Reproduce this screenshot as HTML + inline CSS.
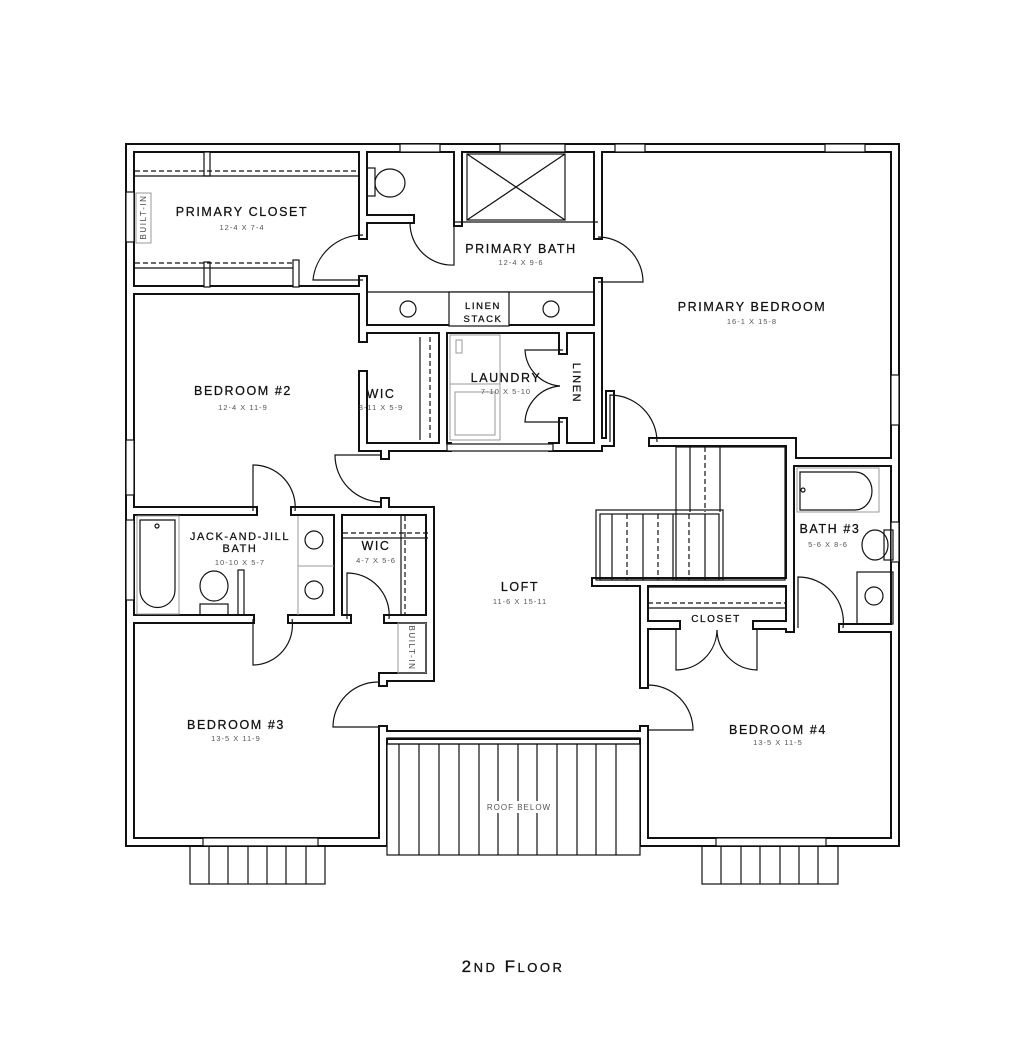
<!DOCTYPE html>
<html><head><meta charset="utf-8"><style>
html,body{margin:0;padding:0;background:#fff}
svg{display:block}
text{font-family:"Liberation Sans",sans-serif;fill:#111;text-anchor:middle}
.n{font-size:12.5px;letter-spacing:1.6px;stroke:#111;stroke-width:0.25px}
.d{font-size:7.5px;letter-spacing:1px;fill:#555}
.t{fill:none;stroke:#111;stroke-width:1.2}
.g{fill:none;stroke:#999;stroke-width:1}
.ds{fill:none;stroke:#111;stroke-width:1.2;stroke-dasharray:5,3}
</style></head><body>
<svg width="1024" height="1062" viewBox="0 0 1024 1062" xmlns="http://www.w3.org/2000/svg">
<defs>
<path id="w" fill="none" stroke-linejoin="miter" stroke-linecap="square" d="
M130,148 H895 V842 H644 V730 M644,684 V582
M383,842 H130 V148
M383,842 V730 M383,735 H644
M383,682 V677 H430
M130,290 H363 M363,148 V235 M363,280 V338 M363,375 V447 H385 V455 M385,502 V511
M130,511 H253 M295,511 H430 V677
M363,219 H410 M458,148 V222
M598,148 V235 M598,282 V442 H610 V395
M653,442 H792 V462 H895
M363,329 H598
M443,331 V445
M385,447 H447 M553,447 H598
M563,331 V350 M563,422 V442
M130,619 H250 M292,619 H347 M338,511 V619 M388,619 H430
M596,582 H790 M790,442 V628
M644,625 H676 M757,625 H790 M843,628 H895
"/>
</defs>
<use href="#w" stroke="#111" stroke-width="10"/>
<use href="#w" stroke="#fff" stroke-width="6"/>

<g class="t" fill="#fff">
<rect x="400" y="144" width="40" height="8" fill="#fff"/>
<rect x="500" y="144" width="65" height="8" fill="#fff"/>
<rect x="615" y="144" width="30" height="8" fill="#fff"/>
<rect x="825" y="144" width="40" height="8" fill="#fff"/>
<rect x="126" y="192" width="8" height="50" fill="#fff"/>
<rect x="126" y="440" width="8" height="55" fill="#fff"/>
<rect x="126" y="520" width="8" height="80" fill="#fff"/>
<rect x="891" y="375" width="8" height="50" fill="#fff"/>
<rect x="891" y="522" width="8" height="40" fill="#fff"/>
<rect x="447" y="444" width="106" height="7" fill="#fff"/>
<rect x="203" y="838" width="115" height="8" fill="#fff"/>
<rect x="716" y="838" width="110" height="8" fill="#fff"/>
</g>

<g class="t">
<path d="M363,280 H313 A50,50 0 0 1 363,235"/>
<path d="M454,223 V265 A42,42 0 0 1 410,223"/>
<path d="M598,282 H643 A45,45 0 0 0 598,237"/>
<path d="M382,455 H335 A47,47 0 0 0 382,502"/>
<path d="M253,511 V465 A42,42 0 0 1 295,511"/>
<path d="M253,619 V665 A40,40 0 0 0 292,619"/>
<path d="M347,619 V573 A42,42 0 0 1 389,619"/>
<path d="M378,727 H333 A45,45 0 0 1 378,682"/>
<path d="M610,442 V395 A47,47 0 0 1 657,442"/>
<path d="M648,730 H693 A45,45 0 0 0 648,685"/>
<path d="M798,628 V577 A45,45 0 0 1 843,628"/>
<path d="M676,628 V670 A41,41 0 0 0 717,630"/>
<path d="M757,628 V670 A41,41 0 0 1 717,630"/>
<path d="M563,350 H525 A38,38 0 0 0 560,386"/>
<path d="M563,422 H525 A38,38 0 0 1 560,386"/>
</g>

<g class="t">
<rect x="204" y="152" width="6" height="24" fill="#fff"/>
<rect x="204" y="262" width="6" height="25" fill="#fff"/>
<rect x="293" y="260" width="6" height="27" fill="#fff"/>
<line x1="135" y1="176" x2="359" y2="176"/>
<line x1="135" y1="268" x2="293" y2="268"/>
<rect x="136" y="193" width="15" height="50" class="g" fill="#fff"/>
</g>
<path class="ds" d="M135,171 H359 M135,263 H293"/>

<g class="t"><rect x="367" y="168" width="8" height="28"/><ellipse cx="390" cy="183" rx="15" ry="14"/></g>
<g class="t"><rect x="467" y="154" width="98" height="66"/><path d="M467,154 L565,220 M565,154 L467,220"/><line x1="454" y1="222" x2="598" y2="222"/></g>
<g class="t"><line x1="367" y1="292" x2="594" y2="292"/><rect x="449" y="292" width="60" height="34" fill="#fff"/><circle cx="408" cy="309" r="8"/><circle cx="551" cy="309" r="8"/></g>
<path class="ds" d="M430,337 V440"/><line class="t" x1="420" y1="337" x2="420" y2="440"/>
<g class="g"><rect x="450" y="335" width="50" height="105"/><rect x="456" y="340" width="6" height="13"/><line x1="450" y1="384" x2="500" y2="384"/><rect x="455" y="392" width="40" height="43"/></g>
<g class="t"><rect x="137" y="516" width="42" height="98" class="g"/><path d="M140,520 H175 V590 A17,17 0 0 1 140,590 Z"/><circle cx="157" cy="526" r="2"/>
<ellipse cx="214" cy="586" rx="14" ry="15"/><rect x="200" y="604" width="28" height="11"/><rect x="238" y="570" width="6" height="45"/>
<line x1="298" y1="516" x2="298" y2="615" class="g"/><line x1="298" y1="566" x2="334" y2="566" class="g"/><circle cx="314" cy="540" r="9"/><circle cx="314" cy="590" r="9"/></g>
<path class="ds" d="M343,533 H428 M405,516 V615"/><line class="t" x1="343" y1="538" x2="428" y2="538"/><line class="t" x1="401" y1="516" x2="401" y2="615"/>
<rect x="398" y="623" width="28" height="50" class="g"/>
<g class="t"><rect x="676" y="447" width="109" height="133"/><rect x="596" y="510" width="127" height="70"/><rect x="600" y="514" width="119" height="66"/>
<line x1="612" y1="514" x2="612" y2="580"/><line x1="643" y1="514" x2="643" y2="580"/><line x1="673" y1="514" x2="673" y2="580"/><line x1="705" y1="514" x2="705" y2="580"/>
<line x1="690" y1="447" x2="690" y2="512"/><line x1="720" y1="447" x2="720" y2="512"/></g>
<path class="ds" d="M627,514 V580 M658,514 V580 M689,514 V580 M705,447 V512"/>
<g class="t"><line x1="648" y1="608" x2="785" y2="608"/><line x1="648" y1="587" x2="785" y2="587"/></g>
<path class="ds" d="M648,603 H785"/>
<g class="t"><rect x="797" y="468" width="82" height="44" class="g"/><path d="M800,472 H855 A17,19 0 0 1 855,510 H800 Z"/><circle cx="803" cy="490" r="2"/>
<ellipse cx="875" cy="545" rx="13" ry="15"/><rect x="884" y="530" width="9" height="30"/>
<rect x="857" y="572" width="36" height="52"/><circle cx="874" cy="596" r="9"/></g>
<g class="t"><rect x="387" y="744" width="253" height="111" fill="#fff"/><rect x="387" y="738" width="253" height="6"/>
<path d="M399,744V855 M419,744V855 M439,744V855 M459,744V855 M479,744V855 M498,744V855 M518,744V855 M537,744V855 M557,744V855 M577,744V855 M596,744V855 M616,744V855"/></g>
<rect x="482" y="801" width="74" height="12" fill="#fff"/>
<g class="t"><rect x="190" y="846" width="135" height="38"/><path d="M209,846V884 M228,846V884 M248,846V884 M267,846V884 M286,846V884 M306,846V884"/>
<rect x="702" y="846" width="136" height="38"/><path d="M721,846V884 M741,846V884 M760,846V884 M780,846V884 M799,846V884 M818,846V884"/></g>

<text class="n" x="242" y="216">PRIMARY CLOSET</text><text class="d" x="242" y="230">12-4 X 7-4</text>
<text class="n" x="521" y="253">PRIMARY BATH</text><text class="d" x="521" y="265">12-4 X 9-6</text>
<text class="n" x="752" y="311">PRIMARY BEDROOM</text><text class="d" x="752" y="324">16-1 X 15-8</text>
<text class="n" x="243" y="395">BEDROOM #2</text><text class="d" x="243" y="410">12-4 X 11-9</text>
<text class="n" x="381" y="398">WIC</text><text class="d" x="381" y="410">3-11 X 5-9</text>
<text class="n" x="506" y="382">LAUNDRY</text><text class="d" x="506" y="394">7-10 X 5-10</text>
<text class="n" x="483" y="309" style="font-size:9.5px">LINEN</text><text class="n" x="483" y="322" style="font-size:9.5px">STACK</text>
<text class="n" transform="translate(573,383) rotate(90)" style="font-size:11px">LINEN</text>
<text class="n" transform="translate(146,217) rotate(-90)" style="font-size:8px;fill:#444;stroke:none">BUILT-IN</text>
<text class="n" transform="translate(409,648) rotate(90)" style="font-size:8px;fill:#444;stroke:none">BUILT-IN</text>
<text class="n" x="240" y="540" style="font-size:11px">JACK-AND-JILL</text><text class="n" x="240" y="552" style="font-size:11px">BATH</text><text class="d" x="240" y="565">10-10 X 5-7</text>
<text class="n" x="376" y="550">WIC</text><text class="d" x="376" y="563">4-7 X 5-6</text>
<text class="n" x="520" y="591">LOFT</text><text class="d" x="520" y="604">11-6 X 15-11</text>
<text class="n" x="236" y="729">BEDROOM #3</text><text class="d" x="236" y="741">13-5 X 11-9</text>
<text class="d" x="519" y="810" style="font-size:8px">ROOF BELOW</text>
<text class="n" x="716" y="622" style="font-size:10px">CLOSET</text>
<text class="n" x="830" y="533">BATH #3</text><text class="d" x="828" y="547">5-6 X 8-6</text>
<text class="n" x="778" y="734">BEDROOM #4</text><text class="d" x="778" y="745">13-5 X 11-5</text>
<text x="513" y="972" style="font-size:17px;letter-spacing:2.5px;stroke:#111;stroke-width:0.3px">2<tspan style="font-size:13px">ND</tspan> F<tspan style="font-size:13px">LOOR</tspan></text>
</svg>
</body></html>
